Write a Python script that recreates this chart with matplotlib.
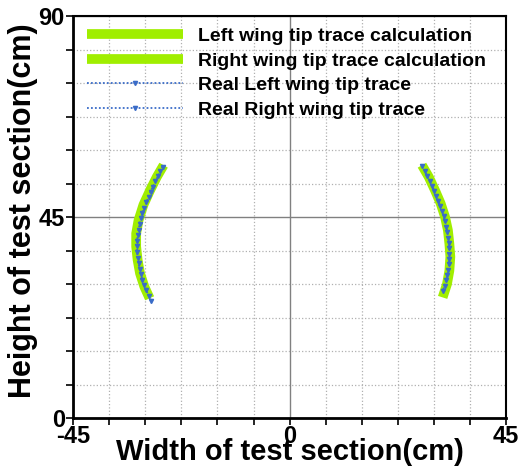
import matplotlib.pyplot as plt
from matplotlib.ticker import MultipleLocator, FixedLocator

plt.rcParams['font.family'] = ['Liberation Sans', 'DejaVu Sans']
plt.rcParams['axes.unicode_minus'] = False

# calculated wing tip traces (cm)
left_calc_x = [-26.2, -27.6, -29.0, -30.4, -31.4, -31.9, -31.9, -31.6, -31.1, -30.2, -29.1]
left_calc_y = [56.6, 54.0, 51.0, 47.7, 44.3, 41.3, 38.4, 35.4, 32.4, 29.4, 26.8]
right_calc_x = [27.5, 28.9, 30.2, 31.4, 32.3, 32.9, 33.2, 33.4, 33.2, 32.7, 31.8]
right_calc_y = [56.6, 54.0, 51.0, 48.0, 45.0, 42.0, 39.0, 36.1, 33.0, 30.0, 27.0]

# measured wing tip traces (cm)
left_real_x = [-26.4, -26.9, -27.4, -27.9, -28.4, -28.9, -29.3, -29.8, -30.2, -30.6, -30.9, -31.2, -31.4,
               -31.6, -31.7, -31.7, -31.7, -31.6, -31.4, -31.2, -30.9, -30.6, -30.2, -29.8, -29.3, -28.8]
left_real_y = [56.3, 55.2, 54.1, 53.0, 51.8, 50.7, 49.5, 48.3, 47.1, 45.9, 44.7, 43.4, 42.2,
               40.9, 39.7, 38.4, 37.2, 35.9, 34.7, 33.4, 32.2, 31.0, 29.8, 28.6, 27.4, 26.3]
right_real_x = [27.6, 28.1, 28.6, 29.1, 29.6, 30.1, 30.5, 30.9, 31.3, 31.7, 32.0, 32.3, 32.6,
                32.8, 33.0, 33.1, 33.2, 33.2, 33.2, 33.1, 33.0, 32.8, 32.5, 32.2, 31.8]
right_real_y = [56.4, 55.3, 54.2, 53.1, 52.0, 50.9, 49.8, 48.6, 47.5, 46.3, 45.2, 44.0, 42.8,
                41.6, 40.4, 39.2, 38.0, 36.8, 35.6, 34.4, 33.2, 32.0, 30.8, 29.6, 28.4]

labels = ['Left wing tip trace calculation', 'Right wing tip trace calculation',
          'Real Left wing tip trace', 'Real Right wing tip trace']

green = '#a0ee00'
blue = '#3a6cc8'

fig = plt.figure(figsize=(5.3, 4.71), dpi=100)
ax = fig.add_axes([0.138, 0.1125, 0.817, 0.8535])

ax.plot(left_calc_x, left_calc_y, color=green, lw=7, solid_capstyle='butt', label=labels[0])
ax.plot(right_calc_x, right_calc_y, color=green, lw=7, solid_capstyle='butt', label=labels[1])
ax.plot(left_real_x, left_real_y, color=blue, ls=(0, (1, 1.2)), lw=1.3, marker='v', ms=3,
        label=labels[2])
ax.plot(right_real_x, right_real_y, color=blue, ls=(0, (1, 1.2)), lw=1.3, marker='v', ms=3,
        label=labels[3])

ax.set_xlim(-45, 45)
ax.set_ylim(0, 90)
ax.xaxis.set_major_locator(FixedLocator([-45, 0, 45]))
ax.yaxis.set_major_locator(FixedLocator([0, 45, 90]))
ax.xaxis.set_minor_locator(MultipleLocator(7.5))
ax.yaxis.set_minor_locator(MultipleLocator(7.5))

ax.grid(which='minor', color='#b0b0b0', ls=':', lw=0.9)
ax.grid(which='major', color='#808080', ls='-', lw=1.0)
ax.set_axisbelow(True)

ax.tick_params(which='both', direction='out', length=5, width=1.2, top=False, right=False)
ax.tick_params(axis='x', which='major', pad=0, labelsize=17)
ax.tick_params(axis='y', which='major', pad=1, labelsize=17)
for lab in ax.get_xticklabels() + ax.get_yticklabels():
    lab.set_fontweight('bold')
for s in ax.spines.values():
    s.set_linewidth(1.5)
ax.spines['left'].set_linewidth(2)
ax.spines['bottom'].set_linewidth(2)

ax.set_xlabel('Width of test section(cm)', fontsize=21, fontweight='bold', labelpad=-7)
ax.set_ylabel('Height of test section(cm)', fontsize=22, fontweight='bold')
ax.yaxis.set_label_coords(-0.08, 0.515)

ax.legend(loc='upper left', bbox_to_anchor=(0.006, 1.0), frameon=False,
          prop={'size': 14, 'weight': 'bold'},
          handlelength=4.9, handletextpad=0.8, labelspacing=0.35, borderaxespad=0.2)

fig.savefig('out.png', dpi=100)
